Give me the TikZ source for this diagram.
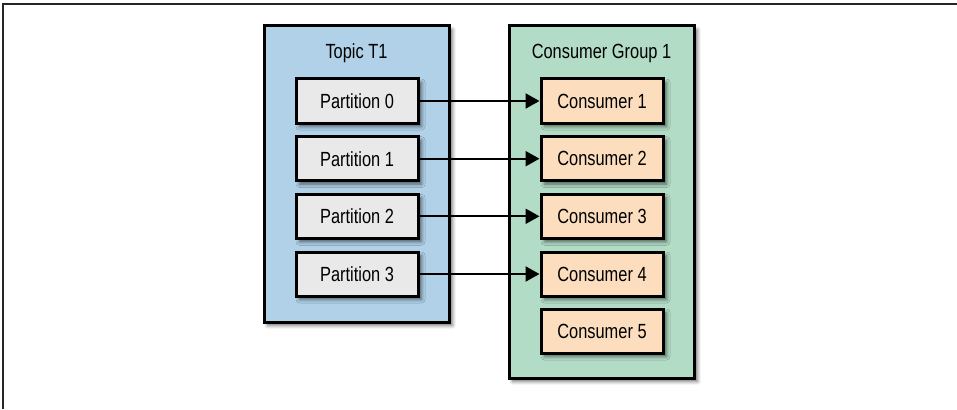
\documentclass[tikz,border=0pt]{standalone}
\usepackage{fontspec}
\setmainfont[FakeStretch=0.8]{Liberation Sans}
\usetikzlibrary{arrows.meta,shadows.blur}

\definecolor{topicblue}{RGB}{176,209,231}
\definecolor{groupgreen}{RGB}{178,220,198}
\definecolor{partgray}{RGB}{233,233,233}
\definecolor{consorange}{RGB}{252,222,190}

\begin{document}
\begin{tikzpicture}[x=1pt,y=-1pt,font=\fontsize{20.5}{22}\selectfont,
	shade/.style={blur shadow={shadow xshift=3.5pt,shadow yshift=-3.5pt,shadow blur radius=3.5pt,shadow opacity=55}},
	bigbox/.style={draw=black,line width=3pt,minimum width=185pt,shade},
	smallbox/.style={draw=black,line width=3pt,minimum width=122pt,minimum height=44pt,shade},
	conn/.style={line width=2.2pt,-{Triangle[length=14pt,width=15pt]}}]
	\useasboundingbox (0,0) rectangle (957,409);
	\draw[line width=1.5pt,black!85] (3,409) -- (3,4) -- (957,4);
	% topic and group
		\node(topic)[bigbox,fill=topicblue,minimum height=296pt] at (356.5,174) {};
		\node(group)[bigbox,fill=groupgreen,minimum height=352pt] at (601.5,202) {};
		\node(topiclbl) at (356.5,53) {Topic T1};
		\node(grouplbl) at (601.5,53) {Consumer Group 1};
	% partitions
		\node(p0)[smallbox,fill=partgray] at (357,101) {Partition 0};
		\node(p1)[smallbox,fill=partgray] at (357,158.7) {Partition 1};
		\node(p2)[smallbox,fill=partgray] at (357,216.3) {Partition 2};
		\node(p3)[smallbox,fill=partgray] at (357,274) {Partition 3};
	% consumers
		\node(c1)[smallbox,fill=consorange] at (602,101) {Consumer 1};
		\node(c2)[smallbox,fill=consorange] at (602,158.7) {Consumer 2};
		\node(c3)[smallbox,fill=consorange] at (602,216.3) {Consumer 3};
		\node(c4)[smallbox,fill=consorange] at (602,274) {Consumer 4};
		\node(c5)[smallbox,fill=consorange] at (602,331) {Consumer 5};
		\draw[conn] (p0) -- (c1);
		\draw[conn] (p1) -- (c2);
		\draw[conn] (p2) -- (c3);
		\draw[conn] (p3) -- (c4);
\end{tikzpicture}
\end{document}
